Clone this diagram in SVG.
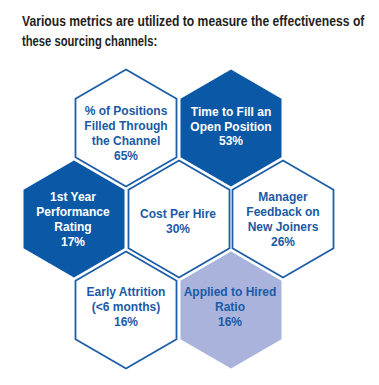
<svg xmlns="http://www.w3.org/2000/svg" xmlns:xlink="http://www.w3.org/1999/xlink" width="379" height="385" viewBox="0 0 379 385">
<style>
.title{font-family:"Liberation Sans",Arial,sans-serif;font-weight:bold;font-size:14px;fill:#231f20}
.lbl{font-family:"Liberation Sans",Arial,sans-serif;font-weight:bold;font-size:12px;text-anchor:middle}
.dk{fill:#1a5aa6}
.wt{fill:#ffffff}
.hw{fill:#ffffff;stroke:#1d5ea9;stroke-width:1.8}
.hd{fill:#0b58a6}
.hl{fill:#aab3dc}
</style>
<defs>
<polygon id="hex" points="0,-58.5 50.5,-29.2 50.5,29.2 0,58.5 -50.5,29.2 -50.5,-29.2"/>
</defs>
<rect width="379" height="385" fill="#ffffff"/>
<text class="title" transform="translate(22,26) scale(0.8,1)" x="0" y="0" textLength="428" lengthAdjust="spacingAndGlyphs">Various metrics are utilized to measure the effectiveness of</text>
<text class="title" transform="translate(22,46) scale(0.8,1)" x="0" y="0" textLength="169" lengthAdjust="spacingAndGlyphs">these sourcing channels:</text>
<g id="connectors"/>
<g id="n1">
<use xlink:href="#hex" href="#hex" x="126" y="128" class="hw"/>
<text class="lbl dk" x="126" y="114.5">% of Positions</text>
<text class="lbl dk" x="126" y="129.5">Filled Through</text>
<text class="lbl dk" x="126" y="144.5">the Channel</text>
<text class="lbl dk" x="126" y="159.5">65%</text>
</g>
<g id="n2">
<use xlink:href="#hex" href="#hex" x="231" y="128" class="hd"/>
<text class="lbl wt" x="231" y="116">Time to Fill an</text>
<text class="lbl wt" x="231" y="130.5">Open Position</text>
<text class="lbl wt" x="231" y="145">53%</text>
</g>
<g id="n3">
<use xlink:href="#hex" href="#hex" x="74" y="219" class="hd"/>
<text class="lbl wt" x="73" y="201">1st Year</text>
<text class="lbl wt" x="73" y="216">Performance</text>
<text class="lbl wt" x="73" y="231">Rating</text>
<text class="lbl wt" x="73" y="246">17%</text>
</g>
<g id="n4">
<use xlink:href="#hex" href="#hex" x="179" y="219" class="hw"/>
<text class="lbl dk" x="178" y="218">Cost Per Hire</text>
<text class="lbl dk" x="178" y="233">30%</text>
</g>
<g id="n5">
<use xlink:href="#hex" href="#hex" x="283" y="219" class="hw"/>
<text class="lbl dk" x="283" y="201">Manager</text>
<text class="lbl dk" x="283" y="216">Feedback on</text>
<text class="lbl dk" x="283" y="231">New Joiners</text>
<text class="lbl dk" x="283" y="246">26%</text>
</g>
<g id="n6">
<use xlink:href="#hex" href="#hex" x="126" y="310" class="hw"/>
<text class="lbl dk" x="126" y="296">Early Attrition</text>
<text class="lbl dk" x="126" y="311">(&lt;6 months)</text>
<text class="lbl dk" x="126" y="326">16%</text>
</g>
<g id="n7">
<use xlink:href="#hex" href="#hex" x="231" y="310" class="hl"/>
<text class="lbl dk" x="230" y="296">Applied to Hired</text>
<text class="lbl dk" x="230" y="311">Ratio</text>
<text class="lbl dk" x="230" y="326">16%</text>
</g>
</svg>
